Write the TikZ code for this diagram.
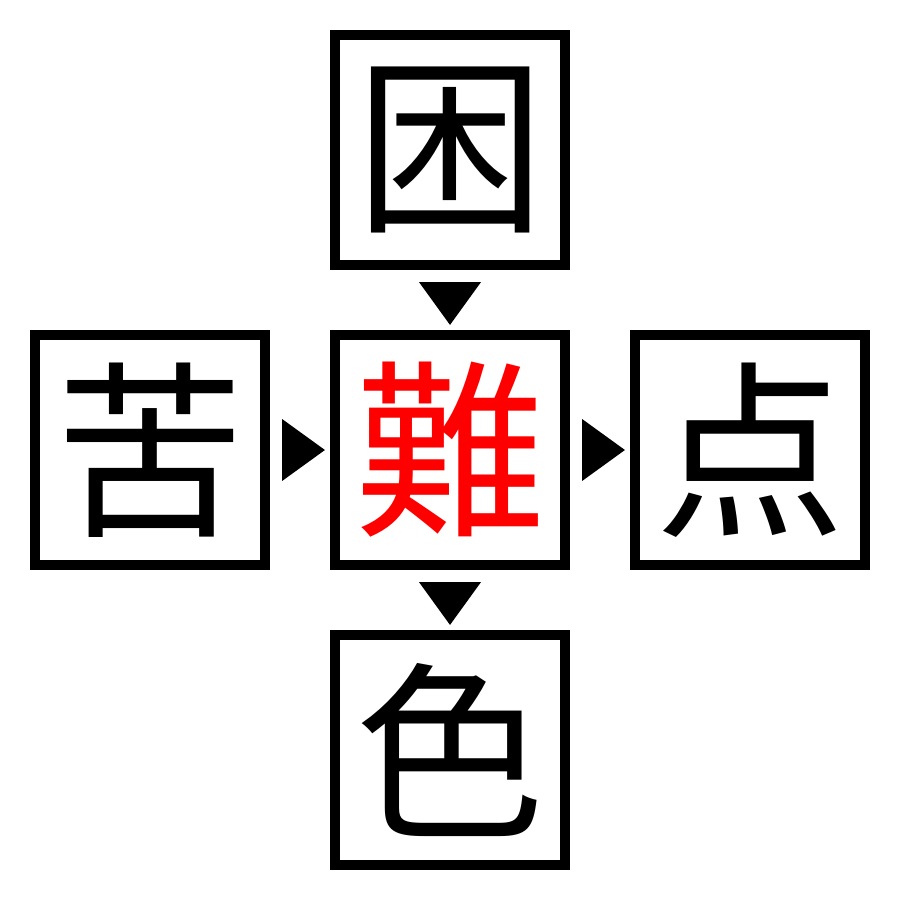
\documentclass[tikz,border=0pt]{standalone}
\usepackage{fontspec}
\newfontfamily\cjk{Noto Sans CJK JP}
\usetikzlibrary{calc}
\begin{document}
\begin{tikzpicture}[x=0.01cm,y=-0.01cm,
  kbox/.style={draw=black,line width=0.1cm,minimum size=2.3cm,inner sep=0pt,font=\cjk\fontsize{54}{54}\selectfont},
  tri/.style={fill=black}]
\useasboundingbox (0,0) rectangle (900,900);
\node[kbox] (top) at (450,150) {困};
\node[kbox] (left) at (150,450) {苦};
\node[kbox,text=red] (mid) at (450,450) {難};
\node[kbox] (right) at (750,450) {点};
\node[kbox] (bot) at (450,750) {色};
% down triangles
\fill[tri] ($(top.south)+(-31,12)$) -- ($(top.south)+(31,12)$) -- ($(mid.north)+(0,-5)$) -- cycle;
\fill[tri] ($(mid.south)+(-31,12)$) -- ($(mid.south)+(31,12)$) -- ($(bot.north)+(0,-5)$) -- cycle;
% right triangles
\fill[tri] ($(left.east)+(12,-31)$) -- ($(left.east)+(12,31)$) -- ($(mid.west)+(-5,0)$) -- cycle;
\fill[tri] ($(mid.east)+(12,-31)$) -- ($(mid.east)+(12,31)$) -- ($(right.west)+(-5,0)$) -- cycle;
\end{tikzpicture}
\end{document}
